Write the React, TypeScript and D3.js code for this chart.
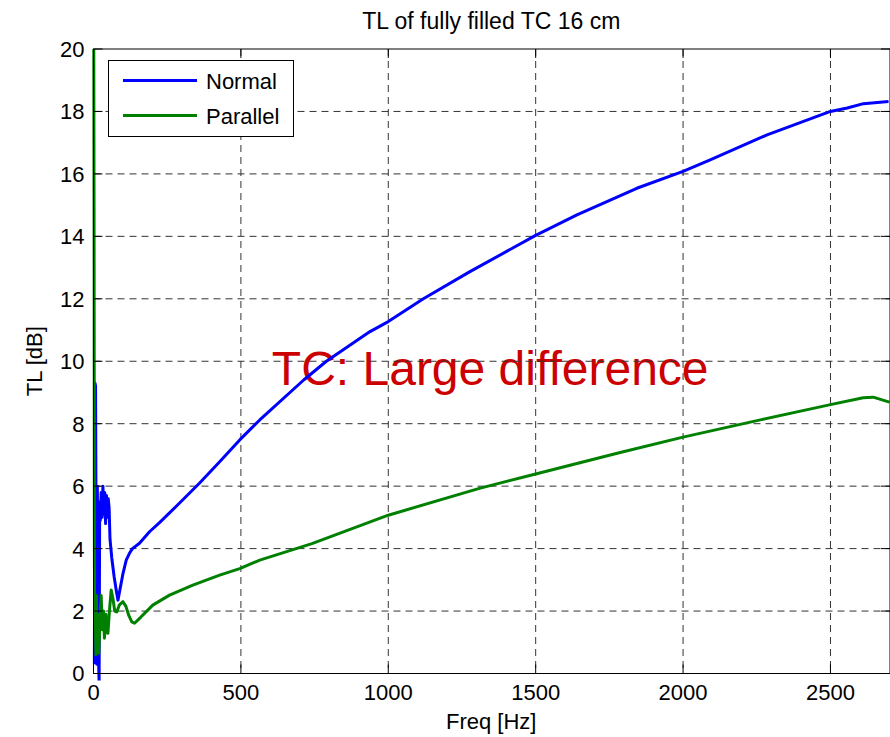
import React from "react";
import * as d3 from "d3";

const chartTitle = "TL of fully filled TC 16 cm";
const xLabel = "Freq [Hz]";
const yLabel = "TL [dB]";
const annotation = "TC: Large difference";
const seriesNames = ["Normal", "Parallel"];
const seriesColors = ["#0000ff", "#008000"];

const xTicks = [0, 500, 1000, 1500, 2000, 2500];
const yTicks = [0, 2, 4, 6, 8, 10, 12, 14, 16, 18, 20];

const normalFreq = [3, 5, 7, 9, 11, 13, 15, 17, 19, 21, 23, 26, 29, 32, 35, 38, 41, 44, 47, 50, 53, 56, 62, 70, 77, 83, 90, 100, 111, 122, 132, 156, 190, 224, 292, 360, 428, 496, 564, 713, 790, 938, 1000, 1119, 1277, 1500, 1640, 1843, 2000, 2092, 2285, 2500, 2557, 2612, 2697];
const normalTL = [0.3, 9.3, 9.2, 4, 0.3, 6, 3, 0.5, -0.3, 5.5, 4.9, 5.8, 5.0, 6.0, 5.1, 5.8, 4.8, 5.7, 5.0, 5.6, 5.3, 4.3, 3.7, 3.1, 2.67, 2.35, 2.7, 3.2, 3.63, 3.85, 4.0, 4.17, 4.54, 4.83, 5.46, 6.1, 6.78, 7.48, 8.12, 9.4, 10.0, 10.95, 11.27, 12.0, 12.87, 14.03, 14.69, 15.54, 16.08, 16.45, 17.25, 18.0, 18.11, 18.25, 18.32];

const parallelFreq = [1, 2, 3, 4, 6, 8, 10, 12, 15, 18, 22, 26, 30, 34, 37, 42, 46, 49, 54, 60, 66, 72, 79, 88, 100, 110, 120, 130, 139, 160, 201, 258, 337, 428, 496, 564, 741, 1000, 1309, 1500, 1780, 2000, 2266, 2500, 2611, 2645, 2700];
const parallelTL = [20, 14, 4, 1.5, 2.0, 0.6, 2.5, 1.0, 1.9, 0.65, 1.6, 2.5, 1.4, 2.0, 1.13, 1.9, 1.3, 1.29, 2.0, 2.67, 2.4, 2.0, 1.97, 2.2, 2.3, 2.15, 1.85, 1.65, 1.61, 1.8, 2.19, 2.51, 2.83, 3.15, 3.36, 3.63, 4.16, 5.07, 5.93, 6.39, 7.06, 7.57, 8.13, 8.61, 8.83, 8.85, 8.69];

const W = 890;
const H = 737;
const M = { left: 93.5, right: 890, top: 49, bottom: 673.5 };
const FONT = "'Liberation Sans', Arial, Helvetica, sans-serif";

export default function App() {
  const x = d3.scaleLinear().domain([0, 2702]).range([M.left, M.right]);
  const y = d3.scaleLinear().domain([0, 20]).range([M.bottom, M.top]);

  const line = d3
    .line<[number, number]>()
    .x((d) => x(d[0]))
    .y((d) => y(d[1]));

  const normalData: [number, number][] = normalFreq.map((f, i) => [f, normalTL[i]]);
  const parallelData: [number, number][] = parallelFreq.map((f, i) => [f, parallelTL[i]]);
  const series = [normalData, parallelData];

  const tickLen = 9;
  const gridColor = "#333";
  const dash = "7,5";

  return (
    <>
      <style>{`body{margin:0;}`}</style>
      <svg width={W} height={H} style={{ display: "block", background: "#fff" }} fontFamily={FONT}>
        <defs>
          <clipPath id="plotClip">
            <rect x={M.left - 3} y={M.top - 3} width={M.right - M.left + 3} height={M.bottom - M.top + 10} />
          </clipPath>
        </defs>

        {/* annotation (drawn beneath grid and lines) */}
        <text x={x(605)} y={y(9.24)} fontSize={48} fill="#cc0000">
          {annotation}
        </text>

        {/* grid */}
        {xTicks.filter((t) => t !== 0).map((t) => (
          <line key={"gx" + t} x1={x(t)} x2={x(t)} y1={M.top} y2={M.bottom} stroke={gridColor} strokeWidth={1} strokeDasharray={dash} />
        ))}
        {yTicks.filter((t) => t !== 0 && t !== 20).map((t) => (
          <line key={"gy" + t} x1={M.left} x2={M.right} y1={y(t)} y2={y(t)} stroke={gridColor} strokeWidth={1} strokeDasharray={dash} />
        ))}

        {/* data lines */}
        <g clipPath="url(#plotClip)">
          {series.map((d, i) => (
            <path key={i} d={line(d) || ""} fill="none" stroke={seriesColors[i]} strokeWidth={3} strokeLinejoin="round" />
          ))}
        </g>

        {/* axes box */}
        <rect x={M.left} y={M.top} width={M.right - M.left} height={M.bottom - M.top} fill="none" stroke="#000" strokeWidth={1} />

        {/* ticks */}
        {xTicks.map((t) => (
          <g key={"tx" + t}>
            <line x1={x(t)} x2={x(t)} y1={M.bottom} y2={M.bottom - tickLen} stroke="#000" />
            <line x1={x(t)} x2={x(t)} y1={M.top} y2={M.top + tickLen} stroke="#000" />
            <text x={x(t)} y={M.bottom + 26} fontSize={22} textAnchor="middle" fill="#000">
              {t}
            </text>
          </g>
        ))}
        {yTicks.map((t) => (
          <g key={"ty" + t}>
            <line x1={M.left} x2={M.left + tickLen} y1={y(t)} y2={y(t)} stroke="#000" />
            <line x1={M.right} x2={M.right - tickLen} y1={y(t)} y2={y(t)} stroke="#000" />
            <text x={M.left - 9} y={y(t)} dy="0.36em" fontSize={22} textAnchor="end" fill="#000">
              {t}
            </text>
          </g>
        ))}

        {/* labels */}
        <text x={(M.left + 889) / 2} y={29} fontSize={23} textAnchor="middle" fill="#000">
          {chartTitle}
        </text>
        <text x={(M.left + 889) / 2} y={729} fontSize={22} textAnchor="middle" fill="#000">
          {xLabel}
        </text>
        <text
          x={42}
          y={(M.top + M.bottom) / 2}
          fontSize={22}
          textAnchor="middle"
          fill="#000"
          transform={`rotate(-90, 42, ${(M.top + M.bottom) / 2})`}
        >
          {yLabel}
        </text>

        {/* legend */}
        <g>
          <rect x={108.5} y={60.5} width={185} height={76} fill="#fff" stroke="#000" strokeWidth={1} />
          {seriesNames.map((name, i) => (
            <g key={name}>
              <line x1={123} x2={197} y1={80.5 + i * 35} y2={80.5 + i * 35} stroke={seriesColors[i]} strokeWidth={3} />
              <text x={206} y={89 + i * 35} fontSize={22} fill="#000">
                {name}
              </text>
            </g>
          ))}
        </g>
      </svg>
    </>
  );
}
